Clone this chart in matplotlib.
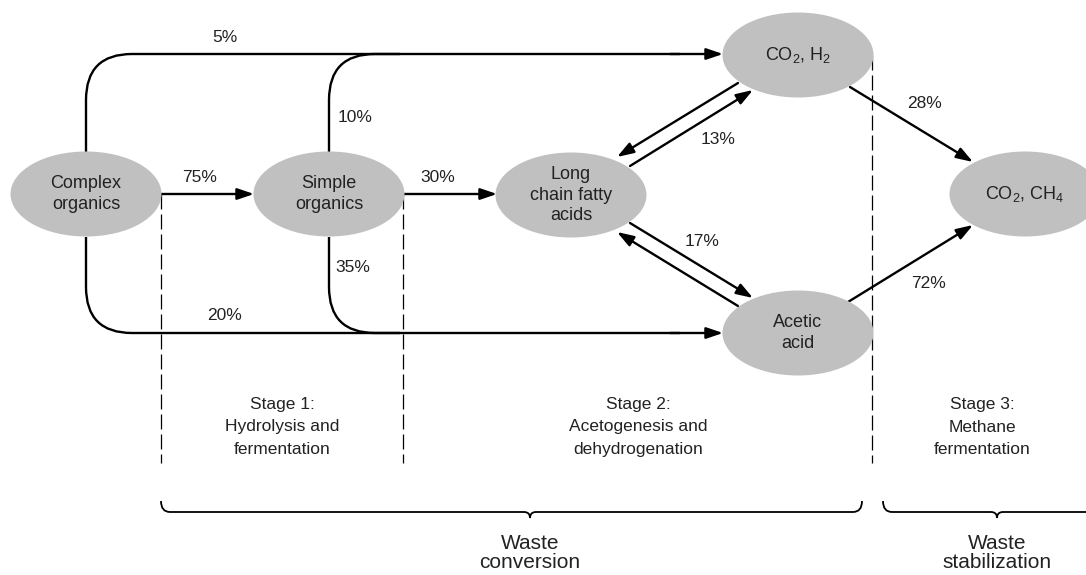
import matplotlib
matplotlib.use("Agg")
import matplotlib.pyplot as plt
import matplotlib.patches as patches
from matplotlib.path import Path

plt.rcParams['font.family'] = ['Liberation Sans', 'DejaVu Sans']
plt.rcParams['mathtext.fontset'] = 'custom'
plt.rcParams['mathtext.rm'] = 'Liberation Sans'
plt.rcParams['mathtext.it'] = 'Liberation Sans:italic'

# nodes of the process
node_names = ["complex", "simple", "lcfa", "co2h2", "acetic", "co2ch4"]
node_labels = ["Complex\norganics", "Simple\norganics", "Long\nchain fatty\nacids",
               r"CO$_\mathrm{2}$, H$_\mathrm{2}$", "Acetic\nacid",
               r"CO$_\mathrm{2}$, CH$_\mathrm{4}$"]

# flow shares (%)
share_complex_to_co2h2 = 5
share_complex_to_simple = 75
share_complex_to_acetic = 20
share_simple_to_co2h2 = 10
share_simple_to_lcfa = 30
share_simple_to_acetic = 35
share_lcfa_co2h2 = 13
share_lcfa_acetic = 17
share_co2h2_to_ch4 = 28
share_acetic_to_ch4 = 72

stage_labels = ["Stage 1:\nHydrolysis and\nfermentation",
                "Stage 2:\nAcetogenesis and\ndehydrogenation",
                "Stage 3:\nMethane\nfermentation"]
group_labels = ["Waste\nconversion", "Waste\nstabilization"]

# layout (pixel coordinates)
W, H = 1086, 575
centers = {"complex": (86, 194), "simple": (329, 194), "lcfa": (571, 195),
           "co2h2": (798, 55), "acetic": (798, 333), "co2ch4": (1025, 194)}
EW, EH = 151, 85
FILL = '#c0c0c0'
TXT = '#222222'
LW = 1.7

fig = plt.figure(figsize=(W / 100, H / 100), dpi=100)
ax = fig.add_axes([0, 0, 1, 1])
ax.set_xlim(0, W)
ax.set_ylim(H, 0)
ax.axis('off')


def arrow(p0, p1):
    ax.add_patch(patches.FancyArrowPatch(p0, p1, arrowstyle='-|>,head_length=0.5,head_width=0.17',
                                         mutation_scale=20, lw=LW, color='black',
                                         shrinkA=0, shrinkB=0, zorder=3))


def line(pts, codes=None, **kw):
    ax.add_patch(patches.PathPatch(Path(pts, codes), fill=False, lw=kw.get('lw', LW),
                                   edgecolor='black', capstyle='butt', zorder=2))


def rounded(x, y0, y1, x1, r=46):
    # vertical from (x, y0) to y1, round corner, horizontal to x1
    s = 1 if y1 > y0 else -1
    pts = [(x, y0), (x, y1 - s * r), (x, y1), (x + r, y1), (x1, y1)]
    codes = [Path.MOVETO, Path.LINETO, Path.CURVE3, Path.CURVE3, Path.LINETO]
    line(pts, codes)


def pct(x, y, v):
    ax.text(x, y, f"{v}%", fontsize=12.5, color=TXT, ha='center', va='center')


# stage separators
for x, ytop in [(161, 194), (403, 194), (872, 55)]:
    ax.plot([x, x], [ytop, 463], color='black', lw=0.9, dashes=(12, 4), zorder=1)

# curved bypass flows
rounded(86, 152, 54, 680)
rounded(329, 152, 54, 400)
arrow((670, 54), (723, 54))
rounded(86, 237, 333, 680)
rounded(329, 237, 333, 400)
arrow((670, 333), (723, 333))

# straight flows
arrow((161, 194), (254, 194))
arrow((404, 194), (497, 194))
arrow((738, 83), (617, 157))
arrow((630, 166), (753, 90))
arrow((630, 223), (753, 298))
arrow((738, 306), (617, 232))
arrow((850, 87), (973, 162))
arrow((848, 302), (973, 225))

# nodes
for name, label in zip(node_names, node_labels):
    cx, cy = centers[name]
    ax.add_patch(patches.Ellipse((cx, cy), EW, EH, facecolor=FILL, edgecolor='none', zorder=4))
    ax.text(cx, cy, label, fontsize=13, color=TXT, ha='center', va='center',
            linespacing=1.25, zorder=5)

pct(225, 38, share_complex_to_co2h2)
pct(200, 177, share_complex_to_simple)
pct(225, 316, share_complex_to_acetic)
pct(355, 118, share_simple_to_co2h2)
pct(438, 177, share_simple_to_lcfa)
pct(353, 267, share_simple_to_acetic)
pct(718, 140, share_lcfa_co2h2)
pct(702, 242, share_lcfa_acetic)
pct(925, 103, share_co2h2_to_ch4)
pct(928, 283, share_acetic_to_ch4)

# stage captions
for x, lab in zip([282, 638, 982], stage_labels):
    ax.text(x, 427, lab, fontsize=12.5, color=TXT, ha='center', va='center', linespacing=1.6)


def brace(x0, x1, xt, ytop=501, yl=512, yt=518, r=9):
    pts = [(x0, ytop), (x0, yl), (x0 + r, yl), (xt - 6, yl), (xt, yl), (xt, yt),
           (xt, yl), (xt + 6, yl), (x1 - r, yl), (x1, yl), (x1, ytop)]
    codes = [Path.MOVETO, Path.CURVE3, Path.CURVE3, Path.LINETO, Path.CURVE3, Path.CURVE3,
             Path.CURVE3, Path.CURVE3, Path.LINETO, Path.CURVE3, Path.CURVE3]
    line(pts, codes, lw=1.3)


brace(161, 862, 530)
brace(883, 1112, 997)

for x, lab in zip([530, 997], group_labels):
    ax.text(x, 553, lab, fontsize=15, color=TXT, ha='center', va='center', linespacing=1.05)

fig.savefig("out.png", dpi=100)
